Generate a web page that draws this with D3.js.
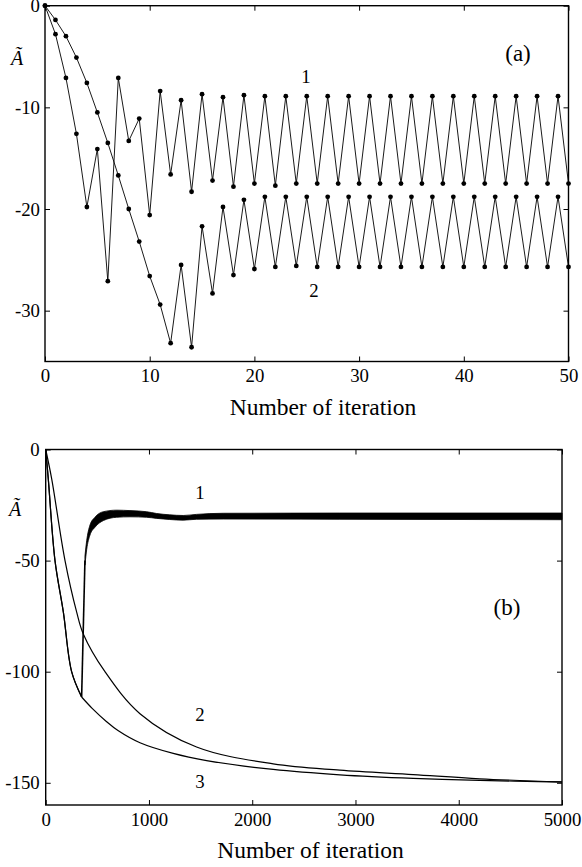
<!DOCTYPE html>
<html>
<head>
<meta charset="utf-8">
<script src="https://cdn.jsdelivr.net/npm/d3@7/dist/d3.min.js"></script>
<style>
  html, body { margin: 0; padding: 0; background: #fff; }
  svg { display: block; }
</style>
</head>
<body>
<svg id="chart" width="582" height="867"></svg>
<script>
// ---------------- DATA ----------------
// Panel (a): iterations 0..50
const aIter = [0,1,2,3,4,5,6,7,8,9,10,11,12,13,14,15,16,17,18,19,20,21,22,23,24,25,26,27,28,29,30,31,32,33,34,35,36,37,38,39,40,41,42,43,44,45,46,47,48,49,50];
const aSeries1 = [0,-2.8,-7.1,-12.6,-19.8,-14.1,-27.1,-7.1,-13.3,-11.1,-20.6,-8.4,-16.6,-9.3,-18.3,-8.7,-17.2,-9.0,-17.8,-8.8,-17.5,-8.9,-17.7,-8.9,-17.5,-8.9,-17.5,-8.9,-17.5,-8.9,-17.5,-8.9,-17.5,-8.9,-17.5,-8.9,-17.5,-8.9,-17.5,-8.9,-17.5,-8.9,-17.5,-8.9,-17.5,-8.9,-17.5,-8.9,-17.5,-8.9,-17.5];
const aSeries2 = [0,-1.4,-3.0,-5.1,-7.6,-10.5,-13.5,-16.7,-20.0,-23.2,-26.6,-29.4,-33.2,-25.5,-33.6,-21.7,-28.3,-19.8,-26.5,-19.1,-25.9,-18.8,-25.7,-18.8,-25.6,-18.8,-25.7,-18.8,-25.7,-18.8,-25.7,-18.8,-25.7,-18.8,-25.7,-18.8,-25.7,-18.8,-25.7,-18.8,-25.7,-18.8,-25.7,-18.8,-25.7,-18.8,-25.7,-18.8,-25.7,-18.8,-25.7];
const aXTicks = [0,10,20,30,40,50];
const aYTicks = [0,-10,-20,-30];

// Panel (b): iterations 0..5000
// curve 1: shares curve 3 up to the jump, then an oscillating band (upper / lower envelope)
const b1X     = [0,25,90,171,251,348,380,397,429,477,558,687,816,977,1074,1200,1332,1460,1719,2849,5000];
const b1Upper = [0,-13.2,-50,-73.2,-100,-111.4,-48,-41,-34,-30.5,-28,-27.3,-27.5,-28.0,-28.8,-29.4,-29.7,-29.2,-28.7,-28.6,-28.6];
const b1Lower = [0,-13.2,-50,-73.2,-100,-111.4,-52,-45,-38.5,-35,-32,-30.5,-30.3,-30.5,-31.0,-31.5,-31.8,-31.4,-31.3,-31.4,-31.6];
const b2X = [0,58,187,300,364,574,913,1461,2203,2849,3559,4204,5000];
const b2Y = [0,-13.2,-50,-73.2,-83,-100,-118.9,-133.9,-141.5,-144.3,-146.3,-148.2,-149.6];
const b3X = [0,25,90,171,251,348,450,590,700,913,1235,1558,2203,2849,3559,4204,5000];
const b3Y = [0,-13.2,-50,-73.2,-100,-111.4,-116.5,-122.5,-126.5,-132,-136.8,-140,-144,-146.4,-148.0,-148.9,-149.7];
const bXTicks = [0,1000,2000,3000,4000,5000];
const bYTicks = [0,-50,-100,-150];

const xTitle = "Number of iteration";
const yTitle = "Ã";

// ---------------- DRAWING ----------------
const FONT = "'Liberation Serif', 'Times New Roman', Times, 'DejaVu Serif', serif";
const svg = d3.select("#chart");
svg.append("rect").attr("width",582).attr("height",867).attr("fill","#fff");

function frameAxes(g, x, y, xTicks, yTicks, labelPad) {
  const [x0, x1] = x.range();
  const [y1, y0] = y.range();
  const fmt = d => String(d);
  g.append("g").attr("transform", `translate(0,${y1})`)
    .call(d3.axisBottom(x).tickValues(xTicks).tickSizeInner(-5).tickSizeOuter(0).tickPadding(7.2).tickFormat(fmt));
  g.append("g").attr("transform", `translate(0,${y0})`)
    .call(d3.axisTop(x).tickValues(xTicks).tickSizeInner(-5).tickSizeOuter(0).tickFormat(""));
  g.append("g").attr("transform", `translate(${x0},0)`)
    .call(d3.axisLeft(y).tickValues(yTicks).tickSizeInner(-5).tickSizeOuter(0).tickPadding(labelPad).tickFormat(fmt));
  g.append("g").attr("transform", `translate(${x1},0)`)
    .call(d3.axisRight(y).tickValues(yTicks).tickSizeInner(-5).tickSizeOuter(0).tickFormat(""));
  g.selectAll(".domain").remove();
  g.selectAll(".tick line").attr("stroke","#000").attr("stroke-width",1);
  g.selectAll(".tick text").style("font-size","18.8px").style("fill","#000");
  g.append("rect").attr("x",x0).attr("y",y0).attr("width",x1-x0).attr("height",y1-y0)
    .attr("fill","none").attr("stroke","#000").attr("stroke-width",1.4);
}

function label(g, txt, x, y, size, opts={}) {
  const t = g.append("text").attr("x",x).attr("y",y).style("font-size",size+"px")
    .attr("text-anchor", opts.anchor || "middle").style("fill","#000").text(txt);
  if (opts.italic) t.style("font-style","italic");
  return t;
}

// ----- Panel (a) -----
const ga = svg.append("g");
const xa = d3.scaleLinear().domain([0,50]).range([45,568.5]);
const ya = d3.scaleLinear().domain([-35,0]).range([361.5,5.7]);
const lineA = d3.line().x(d => xa(d[0])).y(d => ya(d[1]));
[aSeries1, aSeries2].forEach(s => {
  const pts = aIter.map((v,i) => [v, s[i]]);
  ga.append("path").attr("d", lineA(pts)).attr("fill","none").attr("stroke","#000").attr("stroke-width",0.9);
  ga.selectAll(null).data(pts).enter().append("circle")
    .attr("cx", d => xa(d[0])).attr("cy", d => ya(d[1])).attr("r", 2.4).attr("fill","#000");
});
frameAxes(ga, xa, ya, aXTicks, aYTicks, 5);
label(ga, yTitle, 17, 65, 20, {italic:true});
label(ga, "(a)", 518, 61, 23);
label(ga, "1", 306, 83, 18.8);
label(ga, "2", 314, 297, 18.8);
label(ga, xTitle, 323, 415, 23.5);

// ----- Panel (b) -----
const gb = svg.append("g");
const xb = d3.scaleLinear().domain([0,5000]).range([45.7,562]);
const yb = d3.scaleLinear().domain([-160,0]).range([805,449.5]);
const smooth = d3.curveCatmullRom.alpha(0.5);
const lineB = d3.line().x(d => xb(d[0])).y(d => yb(d[1])).curve(smooth);
const lineLin = d3.line().x(d => xb(d[0])).y(d => yb(d[1]));
const stroke = p => p.attr("fill","none").attr("stroke","#000").attr("stroke-width",1.2).attr("stroke-linejoin","round");

// curve 2
gb.append("path").attr("d", lineB(b2X.map((v,i)=>[v,b2Y[i]]))).call(stroke);
// curve 3: steep descent to the kink, then slow approach
const b3pts = b3X.map((v,i)=>[v,b3Y[i]]);
const kink = b3X.indexOf(348);
gb.append("path").attr("d", lineB(b3pts.slice(0, kink+1))).call(stroke);
gb.append("path").attr("d", lineB(b3pts.slice(kink))).call(stroke);
// curve 1: shared descent, vertical jump, then oscillating band
const j = b1X.indexOf(348);
const b1mid = b1X.map((v,i)=>[v,(b1Upper[i]+b1Lower[i])/2]);
gb.append("path").attr("d", lineB(b1mid.slice(0, j+1))).call(stroke);
gb.append("path").attr("d", lineLin(b1mid.slice(j, j+2))).call(stroke).attr("stroke-width",1.6);
const band = b1X.map((v,i)=>({x:v, u:b1Upper[i], l:b1Lower[i]})).slice(j+1);
const areaB = d3.area().x(d => xb(d.x)).y0(d => yb(d.l)).y1(d => yb(d.u)).curve(d3.curveMonotoneX);
gb.append("path").attr("d", areaB(band)).attr("fill","#000").attr("stroke","#000").attr("stroke-width",0.8);

frameAxes(gb, xb, yb, bXTicks, bYTicks, 6);
label(gb, yTitle, 15, 516, 20, {italic:true});
label(gb, "(b)", 507, 615, 23);
label(gb, "1", 200, 499, 18.8);
label(gb, "2", 200, 721, 18.8);
label(gb, "3", 200, 788, 18.8);
label(gb, xTitle, 310.5, 858, 23.5);

svg.selectAll("text").style("font-family", FONT);
</script>
</body>
</html>
